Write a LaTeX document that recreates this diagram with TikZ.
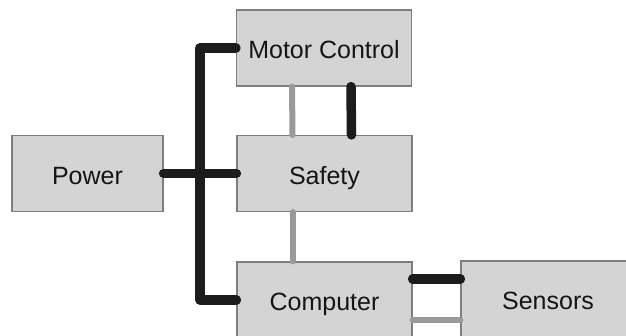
\documentclass[tikz,border=0pt]{standalone}
\usepackage{fontspec}
\setmainfont{Liberation Sans}
\definecolor{boxfill}{HTML}{D4D4D4}
\definecolor{boxline}{HTML}{7E7E7E}
\definecolor{wiregray}{HTML}{9A9A9A}
\definecolor{wireblack}{HTML}{1C1C1C}
\definecolor{txt}{HTML}{151515}
\tikzset{
  unitbox/.style={draw=boxline, line width=1.2pt, fill=boxfill, inner sep=0pt,
    minimum width=175pt, minimum height=76pt, font=\fontsize{25}{29}\selectfont, text=txt,
    text height=22pt, text depth=0pt},
  blackwire/.style={draw=wireblack, line width=9.5pt, line cap=round, line join=round},
  graywire/.style={draw=wiregray, line width=6pt, line cap=round},
}
\begin{document}
\begin{tikzpicture}[x=1pt,y=-1pt]
\useasboundingbox (0,0) rectangle (626,336);
\begin{scope}
\clip (0,0) rectangle (626,336);
\node[unitbox] (mc) at (324,48) {Motor Control};
\node[unitbox] (safety) at (324.5,173.5) {Safety};
\node[unitbox, minimum width=151pt] (power) at (87.5,173.5) {Power};
\node[unitbox] (comp) at (324.5,300) {Computer};
\node[unitbox, minimum width=174pt] (sens) at (548,299) {Sensors};

\coordinate (busx) at (200,0);
% bus
\draw[blackwire] (mc.west) -- (mc.west -| busx) -- (comp.west -| busx) -- (comp.west);
\draw[blackwire] (power.east) -- (safety.west);
% motor control <-> safety
\draw[graywire] ([xshift=-32pt]mc.south) -- ([xshift=-32pt]safety.north);
\draw[blackwire] ([xshift=27pt]mc.south) -- ([xshift=27pt]safety.north);
% safety <-> computer
\draw[graywire] ([xshift=-32pt]safety.south) -- ([xshift=-32pt]comp.north);
% computer <-> sensors
\draw[blackwire] ([yshift=21pt]comp.east) -- ([yshift=21pt]comp.east -| sens.west);
\draw[graywire] ([yshift=-20pt]comp.east) -- ([yshift=-20pt]comp.east -| sens.west);
\end{scope}
\end{tikzpicture}
\end{document}
